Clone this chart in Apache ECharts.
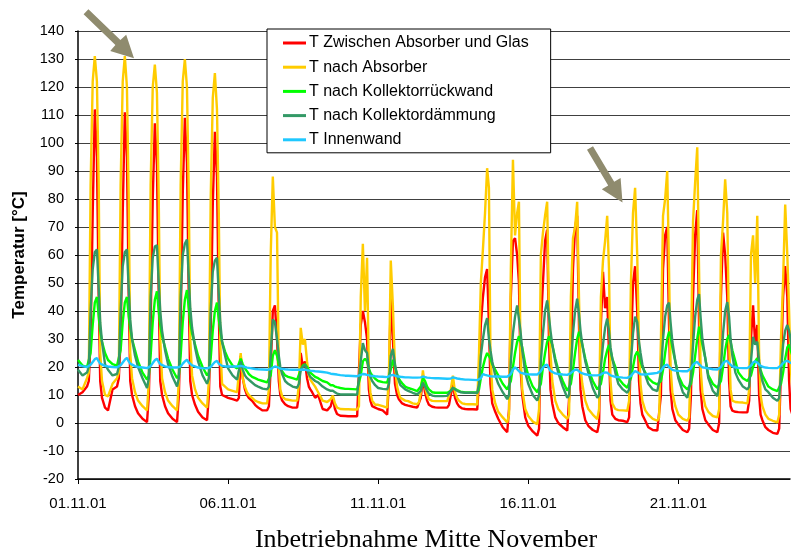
<!DOCTYPE html>
<html>
<head>
<meta charset="utf-8">
<script src="https://cdn.jsdelivr.net/npm/echarts@6/dist/echarts.min.js"></script>
<style>
html,body{margin:0;padding:0;background:#fff;}
#chart{width:791px;height:558px;}
</style>
</head>
<body>
<div id="chart"></div>
<script>
// ---- data ----
// sample positions inside each day (fraction of the day) and number of days shown
const dayFractions = [0.00, 0.15, 0.30, 0.36, 0.42, 0.49, 0.56, 0.63, 0.69, 0.74, 0.80, 0.90];
const dayCount = 24;
const xTickValues = [0, 5, 10, 15, 20];
const xTickLabels = ['01.11.01', '06.11.01', '11.11.01', '16.11.01', '21.11.01'];
const seriesNames = ['T Zwischen Absorber und Glas', 'T nach Absorber', 'T nach Kollektorrückwand', 'T nach Kollektordämmung', 'T Innenwand'];

// one row per day, one value per dayFractions entry
const tZwischen = [
  [10, 11, 13, 15, 30, 75, 112, 95, 45, 15, 9, 5.5],
  [4.5, 12, 13, 16, 30, 75, 111, 95, 45, 15, 10, 6],
  [3.5, 1.5, 0.3, 10, 35, 80, 107, 92, 45, 15, 10, 6],
  [3.5, 1.5, 0.3, 10, 35, 82, 109, 93, 45, 15, 10, 6.5],
  [4, 2, 1, 10, 33, 78, 104, 88, 40, 13, 10, 9.5],
  [9, 8.5, 8, 9, 24, 16, 12, 10, 9, 8.5, 7.9, 6.5],
  [5.5, 4.5, 4.5, 6, 20, 40, 42, 30, 15, 10, 8, 6.7],
  [6, 5.5, 5.5, 10, 25, 20, 22, 16, 13, 12, 11, 9],
  [10, 5, 4.5, 4, 6, 9, 5, 3.2, 2.8, 2.6, 2.5, 2.5],
  [2.4, 2.4, 2.4, 3, 35, 40, 36, 30, 12, 8, 6, 5.5],
  [5, 4.5, 3, 15, 45, 30, 14, 10, 8.5, 7.9, 7, 6.5],
  [6.2, 5.8, 5.5, 6, 9, 16, 11, 8, 6.5, 6, 5.8, 5.6],
  [5.5, 5.5, 5.5, 6.5, 10, 13.8, 9, 7, 6, 5.5, 5.2, 5],
  [4.9, 4.9, 4.8, 15, 35, 45, 52, 55, 35, 14, 7, 4],
  [1.5, -1.5, -3.3, 5, 45, 65, 66, 60, 50, 20, 10, 2],
  [-1, -3, -4.5, -2, 35, 50, 65, 69, 30, 12, 7, 2],
  [0, -1.5, -2.7, -2, 20, 55, 70, 74, 35, 12, 6, 1],
  [-1, -2.5, -3.3, 0, 35, 54, 41, 45, 25, 8, 3, 1.5],
  [1, 0.8, 0.3, 2, 25, 50, 56, 40, 15, 7, 3, 0.8],
  [-1.5, -2.5, -2.7, -2, 10, 55, 67, 70, 35, 12, 5, 1],
  [-0.5, -2.5, -3.3, -2, 10, 45, 67, 76, 35, 12, 5, 1],
  [-0.5, -2.5, -3.3, 0, 45, 68, 60, 45, 15, 6, 4.4, 4],
  [3.9, 3.8, 3.8, 8, 30, 42, 28, 35, 10, 3, 1, -1.5],
  [-2.5, -3.5, -3.9, -2, 20, 45, 56, 45, 15, 5, 3, 1]
];
const tAbsorber = [
  [13, 12, 16, 18, 85, 122, 131, 122, 85, 25, 15, 10],
  [9.5, 14, 16, 18, 85, 122, 131, 120, 80, 25, 16, 11],
  [8, 6, 4.5, 15, 85, 120, 128, 118, 80, 30, 16, 11],
  [8, 6, 4.5, 15, 85, 122, 130, 120, 82, 30, 17, 12],
  [9, 7, 5.5, 15, 80, 116, 125, 112, 75, 28, 14, 13],
  [12, 11.5, 11, 11, 25, 16, 13, 11, 10, 9.5, 9, 8],
  [7.5, 7, 7, 12, 60, 88, 70, 68, 20, 12, 9.5, 8.5],
  [8.3, 8, 8, 14, 34, 28, 30, 22, 17, 15.5, 14.5, 13],
  [11, 8, 7.5, 7.5, 8.5, 9.8, 7, 5.5, 5.2, 5, 5, 4.9],
  [4.9, 4.8, 4.8, 6, 45, 64, 40, 59, 18, 11, 8, 6.5],
  [6.5, 6, 5.5, 18, 58, 42, 20, 13, 10.5, 9, 8.5, 8],
  [7.8, 7, 6.7, 7.5, 11, 18.8, 13, 10, 8.5, 8, 7.9, 7.8],
  [7.8, 7.8, 7.8, 8.5, 12, 16.9, 11, 9, 8, 7.5, 7, 6.8],
  [6.7, 6.7, 6.6, 25, 50, 62, 75, 91, 84, 25, 12, 7],
  [4, 2, 0.2, 3, 55, 94, 67, 75, 79, 25, 12, 5],
  [2.5, 0.5, -0.4, 5, 60, 68, 74, 79, 40, 25, 15, 8],
  [5, 3, 1.5, 3, 45, 66, 70, 79, 45, 20, 14, 8],
  [5, 3, 1.4, 5, 45, 58, 65, 74, 55, 15, 7, 5],
  [4.6, 4.5, 4.4, 8, 50, 75, 84, 60, 28, 14, 8, 4.5],
  [3, 1.5, 0.8, 2, 30, 74, 80, 90, 55, 20, 11, 6],
  [3, 1.5, 0.8, 2, 25, 72, 86, 98.5, 55, 20, 11, 6],
  [4, 2.5, 2, 5, 60, 72, 87, 75, 30, 12, 8, 7.5],
  [7.4, 7.3, 7, 12, 60, 67, 50, 74, 25, 10, 6, 3],
  [1.5, 0.8, 0.2, 3, 30, 51, 78, 60, 40, 20, 12, 7]
];
const tRueckwand = [
  [22.5, 20.5, 20, 20, 25, 35, 43, 45, 38, 33, 29, 25],
  [22.5, 21, 20.5, 21, 26, 36, 43, 45, 38, 34, 30, 26],
  [22, 18, 15.5, 17, 24, 36, 44, 47, 40, 35, 31, 27],
  [23, 19, 16, 17, 24, 36, 44, 47.5, 41, 36, 32, 28],
  [24, 20, 17, 18, 23, 33, 40, 43, 37, 33, 29, 25.5],
  [23, 20.5, 19.5, 20, 23, 21, 19.5, 18.5, 17.5, 17, 16.5, 16],
  [15.5, 15, 14.5, 14.5, 17, 24, 26, 24, 21, 19.5, 18.5, 17],
  [16.5, 16, 15.5, 16, 19, 20.5, 21, 20, 19, 18, 17.5, 16.5],
  [16, 15, 14.5, 14, 13.5, 13.5, 13, 12.8, 12.6, 12.5, 12.4, 12.2],
  [12.2, 12.1, 12, 12, 17, 22, 23, 22, 19.5, 18, 17, 15.8],
  [15, 14.6, 14.4, 15, 19, 22.6, 20, 17.5, 15.8, 15, 14.2, 13],
  [12.5, 12, 11.4, 11.5, 13, 16, 15, 13, 12, 11.5, 11, 10.8],
  [10.8, 10.8, 10.8, 10.8, 11.5, 12.5, 12.2, 11.8, 11.5, 11.2, 11, 10.9],
  [10.9, 10.9, 10.9, 12, 16, 20, 23, 25, 25.5, 23, 21, 19],
  [17, 14, 12, 12, 15, 20, 25, 29, 31, 31, 27, 21],
  [17, 13, 11, 11, 14, 20, 25, 29, 31, 31.4, 28, 23],
  [19, 15, 11.5, 11.5, 14, 19, 25, 30, 32.6, 31, 28, 23],
  [19, 15, 12, 12, 14, 18, 23, 26, 27.9, 26, 23, 20],
  [16, 14, 12.6, 13, 16, 20, 24, 25.5, 24, 22, 20, 18],
  [16, 14.5, 13.8, 13.8, 15, 19, 25, 30, 32.6, 31, 27, 22],
  [17, 13.5, 12, 12, 14, 18, 24, 30, 34.4, 32, 28, 23],
  [17, 14, 12.6, 12.6, 15, 20, 26, 30, 31.4, 29, 26, 22],
  [18, 16, 15, 15, 17, 20, 22, 23.2, 21, 19, 17, 15],
  [13, 12, 11.4, 11.5, 14, 18, 23, 27, 28, 26, 24, 21]
];
const tDaemmung = [
  [19, 17, 18, 20, 40, 55, 61, 62, 48, 36, 29, 21],
  [19, 17, 17.5, 20, 40, 56, 61, 62, 48, 37, 30, 24],
  [20, 16, 12.5, 16, 45, 59, 63, 63.5, 50, 40, 33, 26],
  [21, 16.5, 13, 16, 45, 60, 64, 65.5, 52, 41, 34, 27],
  [22, 17, 14, 16, 40, 54, 58, 59, 46, 36, 29, 24],
  [19.5, 17, 15.5, 16, 22, 19, 17, 16, 15.5, 15, 14.5, 13.5],
  [13, 12.3, 12, 13, 25, 37, 36, 30, 24, 20, 17.5, 15],
  [14, 13, 12.6, 14, 19, 20, 20.8, 19, 17.5, 16.5, 16, 15],
  [14.5, 13, 12, 11.5, 11.5, 11.5, 11, 10.5, 10.3, 10.2, 10.2, 10.2],
  [10.2, 10.2, 10.1, 10.5, 22, 28.5, 26, 25, 19, 16.5, 15, 13.5],
  [12.5, 12.2, 12, 14, 24, 26.5, 21, 17, 15, 13.5, 12.8, 12],
  [11.5, 10.8, 10.2, 10.3, 11.5, 14.4, 13, 11.5, 10.5, 10, 9.8, 9.6],
  [9.6, 9.6, 9.7, 10, 11.5, 12.6, 12, 11.5, 11.2, 11, 10.9, 10.8],
  [10.8, 10.8, 10.7, 14, 24, 30, 35, 37.5, 30, 26, 22, 17],
  [14, 11, 8.5, 10, 22, 32, 38, 42, 42.5, 33, 26, 18],
  [14, 10, 8, 10, 22, 32, 40, 43.8, 38, 33, 28, 22],
  [18, 13, 9, 10, 20, 32, 40, 44.4, 39, 33, 28, 22],
  [18, 12.5, 9, 10, 20, 28, 34, 37.3, 33, 27, 23, 18],
  [14, 12, 10.8, 12, 22, 32, 38, 36, 29, 25, 21, 17],
  [14, 12, 11.4, 11.5, 18, 30, 38, 42, 43, 36, 29, 22],
  [16, 11, 9, 9.5, 16, 28, 38, 44, 46, 38, 30, 23],
  [16, 11.5, 9.6, 10, 20, 32, 40, 43.2, 38, 30, 24, 18],
  [15.5, 13, 12, 13, 22, 30.8, 28, 29, 22, 18, 15, 12],
  [11, 9, 7.9, 9, 18, 28, 33, 35, 33, 30, 25, 20]
];
const tInnenwand = [
  [20.8, 20.3, 20, 20.2, 20.8, 21.8, 22.8, 23.2, 22, 21.2, 20.8, 20.4],
  [20.2, 20, 19.9, 20, 20.6, 21.6, 22.6, 23.3, 22, 21.2, 20.8, 20.3],
  [20, 19.8, 19.6, 19.7, 20.3, 21.4, 22.4, 23, 21.8, 21, 20.6, 20.2],
  [20, 19.8, 19.8, 19.8, 20.2, 21.2, 22, 22.6, 21.6, 21, 20.6, 20.2],
  [19.8, 19.6, 19.5, 19.5, 20, 21, 21.8, 22.2, 21.2, 20.6, 20.4, 20.2],
  [20.2, 20.2, 20.2, 20.2, 20.4, 20.2, 20, 19.8, 19.7, 19.6, 19.5, 19.3],
  [19.2, 19.1, 19, 19, 19.3, 19.8, 20.2, 20, 19.6, 19.4, 19.3, 19.2],
  [19.1, 19, 19, 19, 19, 19.1, 19, 18.9, 18.8, 18.7, 18.6, 18.5],
  [18.4, 18.2, 18, 17.8, 17.6, 17.5, 17.4, 17.3, 17.2, 17.1, 17, 16.9],
  [16.9, 16.8, 16.7, 16.7, 17.2, 17.5, 17.4, 17.2, 17, 16.9, 16.8, 16.7],
  [16.6, 16.5, 16.4, 16.4, 17, 17.2, 16.9, 16.7, 16.6, 16.5, 16.4, 16.3],
  [16.3, 16.2, 16.2, 16.2, 16.3, 16.6, 16.4, 16.2, 16.1, 16.1, 16, 16],
  [16, 15.9, 15.8, 15.8, 15.9, 16.3, 16.1, 15.9, 15.8, 15.7, 15.6, 15.5],
  [15.5, 15.4, 15.3, 15.4, 16, 17.5, 17.2, 17, 16.8, 16.7, 16.6, 16.6],
  [16.6, 16.5, 16.5, 16.9, 17.5, 19, 19.9, 19.2, 18.5, 18, 17.7, 17.5],
  [17.4, 17.3, 17.3, 17.5, 18.5, 19.8, 20.6, 20.8, 19.5, 18.6, 18, 17.7],
  [17.5, 17.3, 17.2, 17.3, 17.8, 18.5, 19, 19.1, 18.5, 18, 17.6, 17.4],
  [17.2, 17, 17, 17, 17.3, 17.8, 18.1, 18, 17.5, 17, 16.7, 16.5],
  [16.4, 16.2, 16.1, 16.1, 16.8, 17.8, 18.5, 18.2, 17.6, 17.4, 17.3, 17.3],
  [17.5, 17.7, 17.9, 18, 18.6, 19.8, 20.6, 20.8, 20, 19.5, 19, 18.7],
  [18.6, 18.5, 18.5, 18.6, 19.5, 20.8, 21.5, 21.8, 21, 20.3, 19.9, 19.7],
  [19.5, 19.2, 19.1, 19.3, 20, 21.3, 22, 22.2, 21.3, 20.6, 20.2, 19.9],
  [19.7, 19.6, 19.6, 19.7, 20.5, 21.6, 22, 21.6, 20.8, 20.4, 20.1, 19.8],
  [19.7, 19.6, 19.6, 19.8, 20.5, 21.4, 22, 22.2, 21.8, 21.5, 21.3, 21]
];

// ---- build [time, value] pairs ----
function toPairs(rows) {
  const out = [];
  for (let d = 0; d < dayCount; d++) {
    for (let k = 0; k < dayFractions.length; k++) {
      out.push([d + dayFractions[k], rows[d][k]]);
    }
  }
  return out;
}

const colors = ['#FF0000', '#FFCC00', '#00FF00', '#339966', '#1FC8FF'];
const allRows = [tZwischen, tAbsorber, tRueckwand, tDaemmung, tInnenwand];
const FONT = 'Arial, "Liberation Sans", sans-serif';

const chart = echarts.init(document.getElementById('chart'), null, {renderer: 'canvas'});
chart.setOption({
  animation: false,
  backgroundColor: '#ffffff',
  grid: {left: 78, right: 1, top: 31, bottom: 72, containLabel: false},
  legend: {
    orient: 'vertical',
    left: 267, top: 29,
    padding: [5, 22, 4, 16],
    itemGap: 6.2,
    itemWidth: 23, itemHeight: 3,
    icon: 'rect',
    backgroundColor: '#ffffff',
    borderColor: '#000000', borderWidth: 1,
    selectedMode: false,
    textStyle: {fontFamily: FONT, fontSize: 16, color: '#000', lineHeight: 18, padding: [0, 0, 0, -2]},
    data: seriesNames
  },
  xAxis: {
    type: 'value',
    min: 0, max: 23.72, interval: 5,
    name: 'Inbetriebnahme Mitte November',
    nameLocation: 'middle',
    nameGap: 48,
    nameTextStyle: {fontFamily: '"Times New Roman", "Liberation Serif", serif', fontSize: 26, color: '#000', padding: [0, 16, 0, 0]},
    axisLine: {show: true, onZero: false, lineStyle: {color: '#000', width: 1.5}},
    axisTick: {show: true, length: 5, lineStyle: {color: '#000'}, customValues: xTickValues},
    axisLabel: {
      fontFamily: FONT, fontSize: 15, color: '#000', margin: 17,
      customValues: xTickValues,
      formatter: function (v) { const i = xTickValues.indexOf(Math.round(v)); return i >= 0 ? xTickLabels[i] : ''; }
    },
    splitLine: {show: false}
  },
  yAxis: {
    type: 'value',
    min: -20, max: 140, interval: 10,
    name: 'Temperatur [°C]',
    nameLocation: 'middle',
    nameGap: 50,
    nameTextStyle: {fontFamily: FONT, fontSize: 17, fontWeight: 'bold', color: '#000'},
    axisLine: {show: true, lineStyle: {color: '#000', width: 1.5}},
    axisTick: {show: true, length: 3, lineStyle: {color: '#000'}},
    axisLabel: {fontFamily: FONT, fontSize: 14.5, color: '#000', margin: 14},
    splitLine: {show: true, lineStyle: {color: '#404040', width: 1}}
  },
  series: seriesNames.map(function (name, i) {
    return {
      name: name,
      type: 'line',
      data: toPairs(allRows[i]),
      showSymbol: false,
      symbol: 'none',
      lineStyle: {color: colors[i], width: 2.4},
      itemStyle: {color: colors[i]},
      z: 2 + i
    };
  }),
  graphic: [
    {type: 'polygon', z: 100, shape: {points: [[83.6,14.2],[115.4,45.0],[110.2,51.0],[134,58.3],[126.2,34.8],[120.4,40.0],[88.4,9.2]]}, style: {fill: '#8F8B6E'}},
    {type: 'polygon', z: 100, shape: {points: [[587.0,149.8],[608.2,185.4],[601.8,189.2],[622.5,202.5],[620.6,178.0],[614.2,181.8],[593.0,146.2]]}, style: {fill: '#8F8B6E'}}
  ]
});
</script>
</body>
</html>
